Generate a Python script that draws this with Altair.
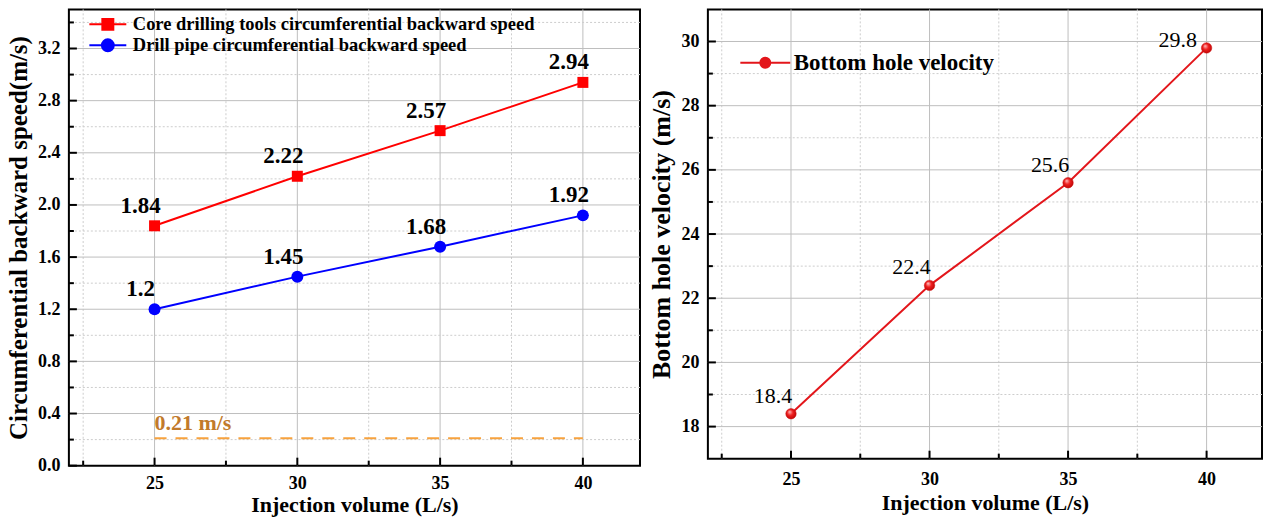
import altair as alt
import pandas as pd

# Injection volume (L/s)
injection = [25, 30, 35, 40]
# Circumferential backward speed (m/s)
core_speed = [1.84, 2.22, 2.57, 2.94]
pipe_speed = [1.2, 1.45, 1.68, 1.92]
# Bottom hole velocity (m/s)
bottom_velocity = [18.4, 22.4, 25.6, 29.8]

core_name = "Core drilling tools circumferential backward speed"
pipe_name = "Drill pipe circumferential backward speed"
bottom_name = "Bottom hole velocity"

# critical cuttings-carrying speed
threshold_speed = [0.21]
threshold_from = [25]
threshold_to = [40]
threshold_text = ["0.21 m/s"]

x_domain = [22, 42]
x_major = [25, 30, 35, 40]
x_minor = [22.5, 27.5, 32.5, 37.5]
speed_domain = [0, 3.5]
speed_major = [0.0, 0.4, 0.8, 1.2, 1.6, 2.0, 2.4, 2.8, 3.2]
speed_minor = [0.2, 0.6, 1.0, 1.4, 1.8, 2.2, 2.6, 3.0, 3.4]
velocity_domain = [17, 31]
velocity_major = [18, 20, 22, 24, 26, 28, 30]
velocity_minor = [19, 21, 23, 25, 27, 29]

FONT = "Liberation Serif"
LW, LH = 572, 457
RW, RH = 555, 450
GRID_MAJOR = "#BEBEBE"
GRID_MINOR = "#CDCDCD"

x_scale = alt.Scale(domain=x_domain, nice=False, zero=False)


def x_axis(label_pad, title_pad):
    return alt.Axis(values=x_major, format="d", grid=False, ticks=False, domain=False,
                    labelFont=FONT, labelFontSize=18, labelFontWeight="bold",
                    labelColor="black", labelPadding=label_pad,
                    title="Injection volume (L/s)", titleFont=FONT, titleFontSize=22,
                    titleFontWeight="bold", titleColor="black", titlePadding=title_pad)


def y_axis(values, fmt, title, title_size, title_pad):
    return alt.Axis(values=values, format=fmt, grid=False, ticks=False, domain=False,
                    labelFont=FONT, labelFontSize=18, labelFontWeight="bold",
                    labelColor="black", labelPadding=9,
                    title=title, titleFont=FONT, titleFontSize=title_size,
                    titleFontWeight="bold", titleColor="black", titlePadding=title_pad)


def legend_def(x, y, font_size, offset):
    return alt.Legend(title=None, orient="none", legendX=x, legendY=y, padding=0,
                      symbolSize=400, symbolStrokeWidth=2, symbolOpacity=1,
                      rowPadding=0, labelFont=FONT, labelFontSize=font_size,
                      labelFontWeight="bold", labelColor="black", labelOffset=offset,
                      labelLimit=600)


def panel_layers(xa, ya, y_scale, y_major, y_minor, height):
    X = lambda f: alt.X(f"{f}:Q", scale=x_scale, axis=xa)
    Y = lambda f: alt.Y(f"{f}:Q", scale=y_scale, axis=ya)
    lo = y_scale.domain[0]
    layers = [
        alt.Chart(pd.DataFrame({"v": x_major})).mark_rule(color=GRID_MAJOR, strokeWidth=1)
        .encode(x=X("v")),
        alt.Chart(pd.DataFrame({"v": x_minor})).mark_rule(color=GRID_MINOR, strokeWidth=1,
                                                           strokeDash=[2, 2])
        .encode(x=X("v")),
        alt.Chart(pd.DataFrame({"v": [v for v in y_major if v > lo]}))
        .mark_rule(color=GRID_MAJOR, strokeWidth=1).encode(y=Y("v")),
        alt.Chart(pd.DataFrame({"v": y_minor})).mark_rule(color=GRID_MINOR, strokeWidth=1,
                                                           strokeDash=[2, 2])
        .encode(y=Y("v")),
        # inward tick marks
        alt.Chart(pd.DataFrame({"v": x_major})).mark_rule(color="black", strokeWidth=2)
        .encode(x=X("v"), y=alt.value(height), y2=alt.value(height - 8)),
        alt.Chart(pd.DataFrame({"v": x_minor})).mark_rule(color="black", strokeWidth=2)
        .encode(x=X("v"), y=alt.value(height), y2=alt.value(height - 5)),
        alt.Chart(pd.DataFrame({"v": y_major})).mark_rule(color="black", strokeWidth=2)
        .encode(y=Y("v"), x=alt.value(0), x2=alt.value(8)),
        alt.Chart(pd.DataFrame({"v": y_minor})).mark_rule(color="black", strokeWidth=2)
        .encode(y=Y("v"), x=alt.value(0), x2=alt.value(5)),
    ]
    return layers, X, Y


# ---------------- left panel: circumferential backward speed ----------------
speed_scale = alt.Scale(domain=speed_domain, nice=False, zero=False)
lx_axis = x_axis(9, 2)
ly_axis = y_axis(speed_major, ".1f", "Circumferential backward speed(m/s)", 25, 6)
left_layers, LX, LY = panel_layers(lx_axis, ly_axis, speed_scale, speed_major, speed_minor, LH)

thr = pd.DataFrame({"start": threshold_from, "end": threshold_to,
                    "v": threshold_speed, "label": threshold_text})
left_layers += [
    alt.Chart(thr).mark_rule(color="#F7A23E", strokeWidth=2, strokeDash=[12, 9])
    .encode(x=LX("start"), x2="end", y=LY("v")),
    alt.Chart(thr).mark_text(align="left", baseline="middle", dy=-15, font=FONT,
                             fontSize=22, fontWeight="bold", color="#C17A2C")
    .encode(x=LX("start"), y=LY("v"), text="label:N"),
]

for name, values, shape, color in [(core_name, core_speed, "square", "#FF0000"),
                                   (pipe_name, pipe_speed, "circle", "#0000FF")]:
    d = pd.DataFrame({"q": injection, "speed": values})
    size = 121 if shape == "square" else 144
    left_layers += [
        alt.Chart(d).mark_line(color=color, strokeWidth=2).encode(x=LX("q"), y=LY("speed")),
        alt.Chart(d).mark_point(shape=shape, filled=True, size=size, color=color, opacity=1)
        .encode(x=LX("q"), y=LY("speed")),
        alt.Chart(d).mark_text(dx=-14, dy=-20, baseline="middle", font=FONT, fontSize=23,
                               fontWeight="bold", color="black")
        .encode(x=LX("q"), y=LY("speed"), text=alt.Text("speed:Q", format="~g")),
    ]

# legend entries: line with marker
sq_path = "M-1.85,0H1.85M-0.55,-0.55H0.55V0.55H-0.55Z"
ci_path = "M-1.85,0H1.85M-0.6,0A0.6,0.6 0 1,0 0.6,0A0.6,0.6 0 1,0 -0.6,0Z"
left_names = [core_name, pipe_name]
left_colors = ["#FF0000", "#0000FF"]
lleg = legend_def(28, 4, 18.5, 14)
leg_df = pd.DataFrame({"series": left_names, "q": [injection[0]] * 2,
                       "speed": [core_speed[0], pipe_speed[0]]})
left_layers.append(
    alt.Chart(leg_df).mark_point(filled=True, opacity=0)
    .encode(x=LX("q"), y=LY("speed"),
            color=alt.Color("series:N", scale=alt.Scale(domain=left_names, range=left_colors),
                            legend=lleg),
            stroke=alt.Stroke("series:N", scale=alt.Scale(domain=left_names, range=left_colors),
                              legend=lleg),
            shape=alt.Shape("series:N", scale=alt.Scale(domain=left_names,
                                                        range=[sq_path, ci_path]),
                            legend=lleg))
)
left = alt.layer(*left_layers).properties(width=LW, height=LH)

# ---------------- right panel: bottom hole velocity ----------------
velocity_scale = alt.Scale(domain=velocity_domain, nice=False, zero=False)
rx_axis = x_axis(12, 4)
ry_axis = y_axis(velocity_major, "d", "Bottom hole velocity (m/s)", 26, 6)
right_layers, RX, RY = panel_layers(rx_axis, ry_axis, velocity_scale, velocity_major,
                                    velocity_minor, RH)

bd = pd.DataFrame({"q": injection, "vel": bottom_velocity})
sphere = alt.RadialGradient(gradient="radial",
                            stops=[alt.GradientStop(color="#FFC8C8", offset=0),
                                   alt.GradientStop(color="#F02020", offset=0.45),
                                   alt.GradientStop(color="#B00000", offset=1)],
                            x1=0.35, y1=0.3, r1=0, x2=0.5, y2=0.5, r2=0.6)
right_layers += [
    alt.Chart(bd).mark_line(color="#E3161B", strokeWidth=2).encode(x=RX("q"), y=RY("vel")),
    alt.Chart(bd).mark_point(shape="circle", filled=True, size=110, fill=sphere,
                             stroke="#D01010", strokeWidth=0.5, opacity=1)
    .encode(x=RX("q"), y=RY("vel")),
    alt.Chart(bd).transform_filter(alt.datum.q < 40)
    .mark_text(dx=-18, dy=-18, baseline="middle", font=FONT, fontSize=22, color="black")
    .encode(x=RX("q"), y=RY("vel"), text=alt.Text("vel:Q", format="~g")),
    alt.Chart(bd).transform_filter(alt.datum.q >= 40)
    .mark_text(dx=-29, dy=-8, baseline="middle", font=FONT, fontSize=22, color="black")
    .encode(x=RX("q"), y=RY("vel"), text=alt.Text("vel:Q", format="~g")),
]
bl_path = "M-2.5,0H2.5M-0.5,0A0.5,0.5 0 1,0 0.5,0A0.5,0.5 0 1,0 -0.5,0Z"
rleg = legend_def(46, 42, 23, 17)
rleg_df = pd.DataFrame({"series": [bottom_name], "q": [injection[0]],
                        "vel": [bottom_velocity[0]]})
right_layers.append(
    alt.Chart(rleg_df).mark_point(filled=True, opacity=0)
    .encode(x=RX("q"), y=RY("vel"),
            color=alt.Color("series:N", scale=alt.Scale(domain=[bottom_name], range=["#E3161B"]),
                            legend=rleg),
            stroke=alt.Stroke("series:N", scale=alt.Scale(domain=[bottom_name],
                                                          range=["#E3161B"]), legend=rleg),
            shape=alt.Shape("series:N", scale=alt.Scale(domain=[bottom_name], range=[bl_path]),
                            legend=rleg))
)
right = alt.layer(*right_layers).properties(width=RW, height=RH)

chart = (
    alt.hconcat(left, right, spacing=68, bounds="flush")
    .resolve_scale(x="independent", y="independent", color="independent",
                   stroke="independent", shape="independent")
    .resolve_legend(color="independent", stroke="independent", shape="independent")
    .properties(padding={"left": 5, "top": 7, "right": 2, "bottom": 4},
                background="white")
    .configure_view(stroke="black", strokeWidth=2)
)

chart.save("out.html", embed_options={"renderer": "svg", "actions": False})
